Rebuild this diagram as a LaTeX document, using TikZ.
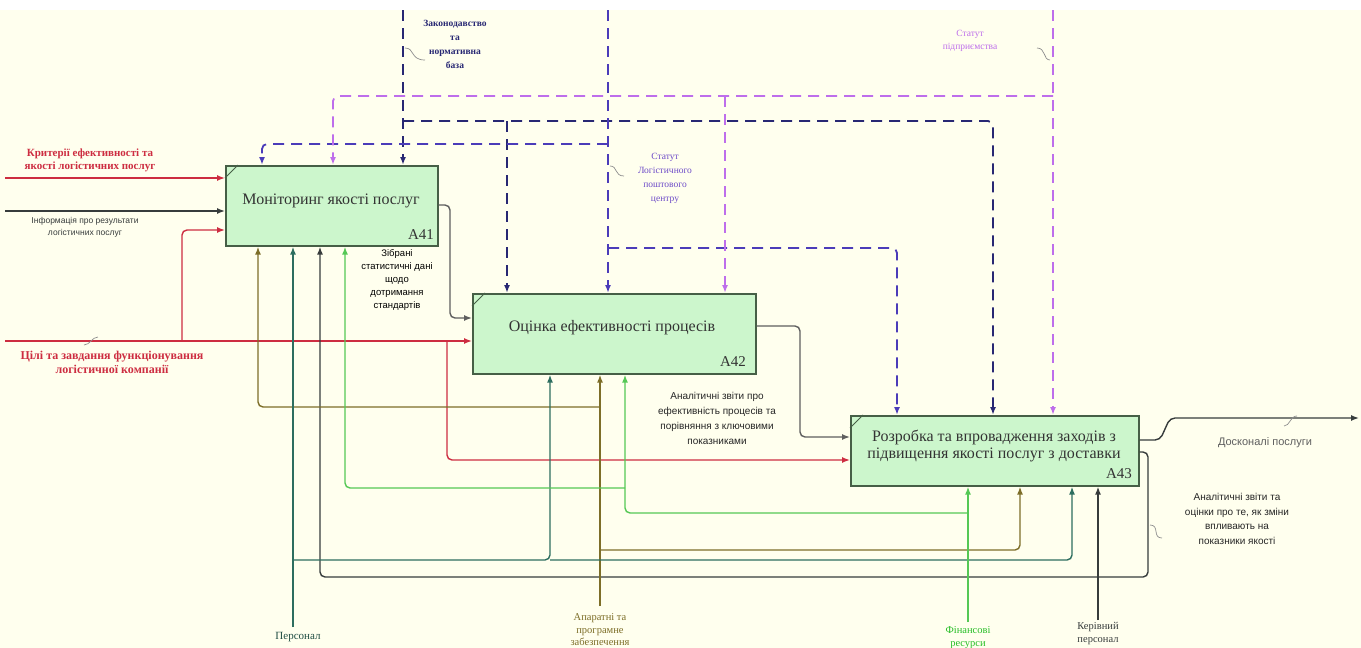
\documentclass[tikz,border=0pt]{standalone}
\usepackage{fontspec}
\setmainfont{Liberation Serif}
\newfontfamily\lsans{Liberation Sans}
\usetikzlibrary{arrows.meta}
\definecolor{bgc}{RGB}{255,255,238}
\definecolor{boxfill}{RGB}{204,246,204}
\definecolor{boxdraw}{RGB}{70,95,70}
\definecolor{cnavy}{RGB}{40,40,115}
\definecolor{cbv}{RGB}{75,60,185}
\definecolor{cvio}{RGB}{190,110,235}
\definecolor{cred}{RGB}{205,45,65}
\definecolor{colive}{RGB}{125,110,40}
\definecolor{cteal}{RGB}{45,110,95}
\definecolor{cgreen}{RGB}{85,200,85}
\definecolor{cdark}{RGB}{55,60,60}
\definecolor{cgray}{RGB}{95,95,95}
\definecolor{cfin}{RGB}{40,190,40}
\begin{document}
\begin{tikzpicture}[x=1pt,y=-1pt,
  box/.style={draw=boxdraw, fill=boxfill, line width=1.6pt, anchor=north west, inner sep=0},
  boxtxt/.style={font=\fontsize{16}{17}\selectfont, text=black!80, align=center, inner sep=0},
  idtxt/.style={font=\fontsize{15}{15}\selectfont, text=black!80, inner sep=0},
  conn/.style={line width=1.4pt, rounded corners=5pt, -{Latex[length=8pt,width=6pt]}},
  ctl/.style={conn, line width=1.8pt, dash pattern=on 11pt off 7pt},
  lab/.style={align=center, inner sep=0},
  sq/.style={line width=0.7pt, cgray!70},
  mark41/.style={draw=boxdraw, line width=1pt}]
\useasboundingbox (0,0) rectangle (1361,648);
\clip (0,0) rectangle (1361,648);
\fill[bgc] (0,10) rectangle (1361,648);

% ---------- boxes
\node[box, minimum width=212pt, minimum height=80pt] (A41) at (225,165) {};
\node[box, minimum width=283pt, minimum height=80pt] (A42) at (472,293) {};
\node[box, minimum width=288pt, minimum height=70pt] (A43) at (850,415) {};
\draw[mark41] (A41.north west) ++(0,13) -- ++(13,-13);
\draw[mark41] (A42.north west) ++(0,13) -- ++(13,-13);
\draw[mark41] (A43.north west) ++(0,13) -- ++(13,-13);
\node[boxtxt] (t41) at (331,201) {Моніторинг якості послуг};
\node[boxtxt] (t42) at (612,328) {Оцінка ефективності процесів};
\node[boxtxt] (t43) at (994,446) {Розробка та впровадження заходів з\\підвищення якості послуг з доставки};
\node[idtxt] (n41) at (421,235) {A41};
\node[idtxt] (n42) at (733,362) {A42};
\node[idtxt] (n43) at (1119,474) {A43};

% ---------- controls
\coordinate (top1) at (403,10);
\coordinate (top2) at (608,10);
\coordinate (top3) at (1053,10);
\draw[ctl,cnavy] (top1) -- (403,0 |- A41.north);
\draw[ctl,cnavy] (403,121) -| (993,0 |- A43.north);
\draw[ctl,cnavy] (507,121) -- (507,0 |- A42.north);
\draw[ctl,cbv] (top2) -- (608,0 |- A42.north);
\draw[ctl,cbv] (608,144) -| (262,0 |- A41.north);
\draw[ctl,cbv] (608,248) -| (897,0 |- A43.north);
\draw[ctl,cvio] (top3) -- (1053,0 |- A43.north);
\draw[ctl,cvio] (1053,96) -| (333,0 |- A41.north);
\draw[ctl,cvio] (725,96) -- (725,0 |- A42.north);

% ---------- inputs
\coordinate (in1) at (5,178);
\coordinate (in2) at (5,211);
\coordinate (in3) at (5,341);
\draw[conn,cred] (in1) -- (A41.west |- 0,178);
\draw[conn,cdark] (in2) -- (A41.west |- 0,211);
\draw[conn,cred] (in3) -- (A42.west |- 0,341);
\draw[conn,cred] (182,341) |- (A41.west |- 0,230);
\draw[conn,cred] (447,341) |- (A43.west |- 0,460);

% ---------- outputs
\coordinate (out1) at (1359,418);
\draw[conn,cgray] (A41.east |- 0,205) -- (450,205) -- (450,318) -- (A42.west |- 0,318);
\draw[conn,cgray] (A42.east |- 0,326) -- (800,326) -- (800,437) -- (A43.west |- 0,437);
\draw[conn,cdark] (A43.east |- 0,440) -- (1160,440) -- (1170,418) -- (out1);
\draw[conn,cdark] (A43.east |- 0,452) -- (1148,452) -- (1148,577) -- (320,577) -- (320,0 |- A41.south);

% ---------- mechanisms
\coordinate (m1) at (600,606);
\coordinate (m2) at (293,627);
\coordinate (m3) at (968,622);
\coordinate (m4) at (1098,620);
\draw[conn,colive] (m1) -- (600,0 |- A42.south);
\draw[conn,colive] (600,407) -| (258,0 |- A41.south);
\draw[conn,colive] (600,550) -| (1020,0 |- A43.south);
\draw[conn,cteal] (m2) -- (293,0 |- A41.south);
\draw[conn,cteal] (293,560) -| (550,0 |- A42.south);
\draw[conn,cteal] (550,560) -| (1072,0 |- A43.south);
\draw[conn,cgreen] (m3) -- (968,0 |- A43.south);
\draw[conn,cgreen] (968,513) -| (625,0 |- A42.south);
\draw[conn,cgreen] (625,488) -| (345,0 |- A41.south);
\draw[conn,cdark] (m4) -- (1098,0 |- A43.south);

% ---------- squiggles
\draw[sq] (405,48) .. controls (415,48) and (410,60) .. (425,60);
\draw[sq] (610,166) .. controls (618,166) and (614,176) .. (624,176);
\draw[sq] (1050,60) .. controls (1043,60) and (1046,48) .. (1037,48);
\draw[sq] (84,345) .. controls (90,345) and (92,337) .. (98,337);
\draw[sq] (1284,426) .. controls (1290,426) and (1290,416) .. (1297,416);
\draw[sq] (1150,525) .. controls (1160,525) and (1152,538) .. (1162,538);

% ---------- labels
\node[lab, text=cred, font=\bfseries\fontsize{11}{13}\selectfont] (lKrit) at (90,160) {Критерії ефективності та\\якості логістичних послуг};
\node[lab, text=cdark, font=\lsans\fontsize{8.5}{12}\selectfont] (lInfo) at (85,227) {Інформація про результати\\логістичних послуг};
\node[lab, text=cred, font=\bfseries\fontsize{12}{14}\selectfont] (lCili) at (112,362) {Цілі та завдання функціонування\\логістичної компанії};
\node[lab, text=cnavy, font=\bfseries\fontsize{9.5}{14}\selectfont] (lZak) at (455,44) {Законодавство\\та\\нормативна\\база};
\node[lab, text=cbv!70!cvio, font=\fontsize{9.5}{14}\selectfont] (lStC) at (665,178) {Статут\\Логістичного\\поштового\\центру};
\node[lab, text=cvio, font=\fontsize{9.5}{13}\selectfont] (lStP) at (970,41) {Статут\\підприємства};
\node[lab, text=black, font=\lsans\fontsize{9.5}{13}\selectfont] (lZib) at (397,280) {Зібрані\\статистичні дані\\щодо\\дотримання\\стандартів};
\node[lab, text=black!85, font=\lsans\fontsize{10}{15}\selectfont] (lAn1) at (717,418) {Аналітичні звіти про\\ефективність процесів та\\порівняння з ключовими\\показниками};
\node[lab, text=black!85, font=\lsans\fontsize{10}{14.7}\selectfont] (lAn2) at (1237,519) {Аналітичні звіти та\\оцінки про те, як зміни\\впливають на\\показники якості};
\node[lab, text=cgray, font=\lsans\fontsize{11}{13}\selectfont] (lOut) at (1265,443) {Досконалі послуги};
\node[lab, text=cteal!70!black, font=\fontsize{11}{13}\selectfont] (lPers) at (298,637) {Персонал};
\node[lab, text=colive, font=\fontsize{10.5}{12.5}\selectfont] (lApar) at (600,630) {Апаратні та\\програмне\\забезпечення};
\node[lab, text=cfin, font=\fontsize{10.5}{13}\selectfont] (lFin) at (968,638) {Фінансові\\ресурси};
\node[lab, text=cdark, font=\fontsize{10.5}{13}\selectfont] (lKer) at (1098,634) {Керівний\\персонал};
\end{tikzpicture}
\end{document}
